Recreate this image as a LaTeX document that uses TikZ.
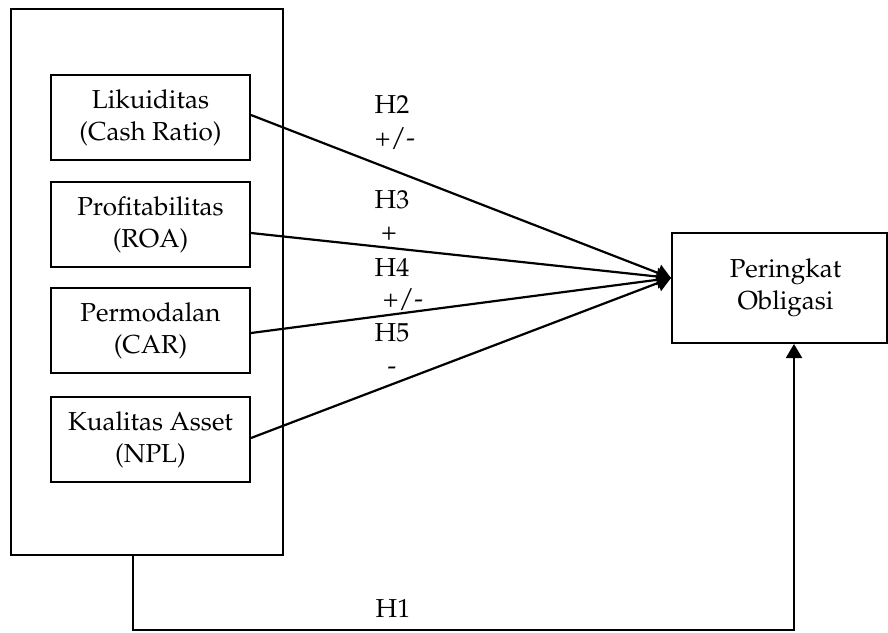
\documentclass[tikz,border=0pt]{standalone}
\usepackage[T1]{fontenc}
\usepackage{mathpazo}
\usetikzlibrary{arrows.meta,calc}
\begin{document}
\begin{tikzpicture}[x=1pt,y=-1pt,
  every node/.style={font=\fontsize{26}{32}\selectfont},
  frame/.style={draw,line width=2pt},
  varbox/.style={draw,line width=2pt,minimum width=199pt,minimum height=85pt,inner sep=0pt,align=center},
  lab/.style={anchor=base,inner sep=0pt},
  conn/.style={line width=2.2pt,-{Triangle[length=14pt,width=17pt]}},
  conn2/.style={line width=2.2pt,-{Triangle[length=14pt,width=16pt]}}]
\useasboundingbox (0,0) rectangle (888,632);
% outer frame
\node[frame,minimum width=272pt,minimum height=546pt,inner sep=0pt] (outer) at (147,282) {};
% inner boxes
\node[varbox] (b1) at (150.5,117.5) {Likuiditas\\(Cash Ratio)};
\node[varbox] (b2) at (150.5,224.5) {Profitabilitas\\(ROA)};
\node[varbox] (b3) at (150.5,330.5) {Permodalan\\(CAR)};
\node[varbox] (b4) at (150.5,439.5) {Kualitas Asset\\(NPL)};
% dependent
\node[frame,minimum width=215pt,minimum height=110pt,inner sep=0pt,align=center] (rb) at (779.5,288) {\hspace*{12pt}Peringkat\\\hspace*{12pt}Obligasi};
\coordinate (tip) at ([yshift=10pt]rb.west);
% connectors
\draw[conn] ([yshift=2.5pt]b1.east) -- (tip);
\draw[conn] ([yshift=-8.5pt]b2.east) -- (tip);
\draw[conn] ([yshift=-2.5pt]b3.east) -- (tip);
\draw[conn] ([yshift=1.5pt]b4.east) -- (tip);
% H1 path
\coordinate (h1a) at ($(outer.south west)+(123,0)$);
\coordinate (h1c) at (794,630);
\coordinate (h1b) at (rb.south -| h1c);
\draw[conn2] (h1a) -- (h1a |- h1c) -- (h1c) -- (h1b);
% labels
\node[lab] (lh2) at (392,113) {H2};
\node[lab] (sh2) at (395,146) {+/-};
\node[lab] (lh3) at (392,208) {H3};
\node[lab] (sh3) at (389,240) {+};
\node[lab] (lh4) at (392,276) {H4};
\node[lab] (sh4) at (403,307) {+/-};
\node[lab] (lh5) at (392,341) {H5};
\node[lab] (sh5) at (392,374) {-};
\node[lab] (lh1) at (393,617) {H1};
\end{tikzpicture}
\end{document}
